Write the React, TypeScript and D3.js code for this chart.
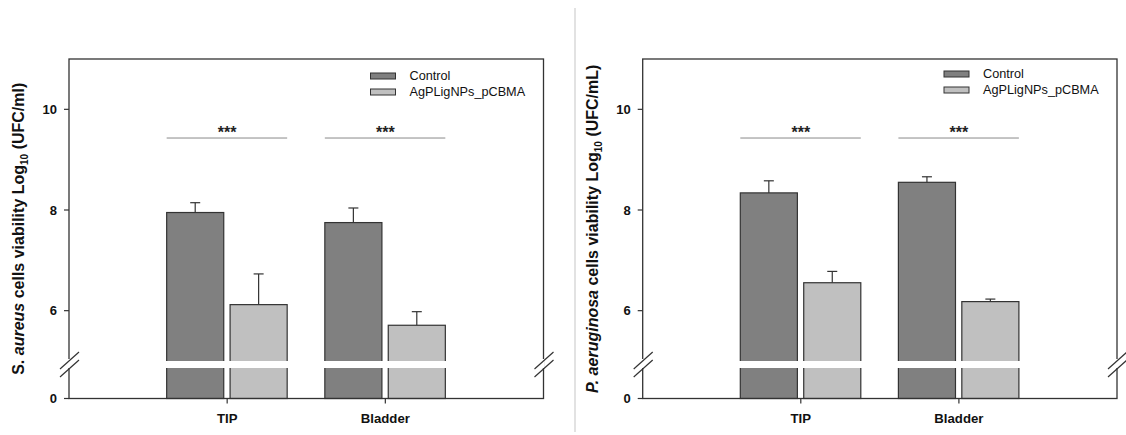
import React from "react";
import * as d3 from "d3";

const categories = ["TIP", "Bladder"];
const seriesNames = ["Control", "AgPLigNPs_pCBMA"];
const seriesColors = ["#808080", "#c0c0c0"];

const saureusControl = [7.95, 7.75];
const saureusControlErr = [0.195, 0.29];
const saureusTreated = [6.12, 5.71];
const saureusTreatedErr = [0.61, 0.27];

const paeruginosaControl = [8.34, 8.55];
const paeruginosaControlErr = [0.24, 0.11];
const paeruginosaTreated = [6.555, 6.18];
const paeruginosaTreatedErr = [0.225, 0.05];

const yTicks = [0, 6, 8, 10];
const sigLevel = 9.43;
const sigLabel = "***";

const FONT = "Arial, 'Liberation Sans', sans-serif";

type PanelProps = {
  x0: number;
  x1: number;
  values: number[][];
  errs: number[][];
  titleA: string;
  titleAItalic: boolean;
  titleB: string;
  titleUnit: string;
  titleX: number;
  legendY: number;
};

function Panel(p: PanelProps) {
  const top = 59;
  const bottom = 398.5;
  const y = d3.scaleLinear().domain([0, 5, 11]).range([bottom, 361, top]);
  const x = d3.scalePoint<string>().domain(categories).range([p.x0, p.x1]).padding(1);
  const xi = d3.scaleBand<string>().domain(seriesNames).range([-60.5, 60]).paddingInner(0.1);
  const gapTop = 361;
  const gapBot = 368;
  const stroke = "#333";
  const midY = (top + bottom) / 2;

  const slash = (cx: number) => (
    <g stroke={stroke} strokeWidth={1.2}>
      <line x1={cx - 9} y1={369} x2={cx + 10} y2={352} />
      <line x1={cx - 9} y1={377} x2={cx + 10} y2={360} />
    </g>
  );

  return (
    <g fontFamily={FONT}>
      {categories.map((c, ci) => (
        <g key={c}>
          {seriesNames.map((s, si) => {
            const v = p.values[si][ci];
            const e = p.errs[si][ci];
            const bx = (x(c) as number) + (xi(s) as number);
            const bw = xi.bandwidth();
            const cx = bx + bw / 2;
            return (
              <g key={s}>
                <line x1={cx} x2={cx} y1={y(v)} y2={y(v + e)} stroke={stroke} strokeWidth={1.2} />
                <line x1={cx - 5} x2={cx + 5} y1={y(v + e)} y2={y(v + e)} stroke={stroke} strokeWidth={1.2} />
                <rect x={bx} y={y(v)} width={bw} height={bottom - y(v)} fill={seriesColors[si]} stroke={stroke} strokeWidth={1.2} />
                <rect x={bx - 1.5} y={gapTop} width={bw + 3} height={gapBot - gapTop} fill="#fff" />
              </g>
            );
          })}
          <line
            x1={(x(c) as number) + (xi(seriesNames[0]) as number)}
            x2={(x(c) as number) + (xi(seriesNames[1]) as number) + xi.bandwidth()}
            y1={y(sigLevel)}
            y2={y(sigLevel)}
            stroke="#8a8a8a"
            strokeWidth={1}
          />
          <text x={x(c) as number} y={y(sigLevel) - 0.5} textAnchor="middle" fontSize={16} fontWeight="bold" fill="#222">
            {sigLabel}
          </text>
          <line x1={x(c) as number} x2={x(c) as number} y1={bottom} y2={bottom + 5} stroke={stroke} strokeWidth={1.2} />
          <text x={x(c) as number} y={423} textAnchor="middle" fontSize={13.2} fontWeight="bold" fill="#111">
            {c}
          </text>
        </g>
      ))}
      <rect x={p.x0} y={top} width={p.x1 - p.x0} height={bottom - top} fill="none" stroke={stroke} strokeWidth={1.3} />
      {yTicks.map((t) => (
        <g key={t}>
          <line x1={p.x0 - 5} x2={p.x0} y1={y(t)} y2={y(t)} stroke={stroke} strokeWidth={1.2} />
          <text x={p.x0 - 12} y={y(t)} dy="0.35em" textAnchor="end" fontSize={13} fontWeight="bold" fill="#111">
            {t}
          </text>
        </g>
      ))}
      <rect x={p.x0 - 1} y={359} width={2.5} height={9} fill="#fff" />
      <rect x={p.x1 - 1.5} y={359} width={2.5} height={9} fill="#fff" />
      {slash(p.x0)}
      {slash(p.x1)}
      {seriesNames.map((s, si) => (
        <g key={s}>
          <rect x={p.x1 - 173} y={p.legendY + si * 16 - 3} width={25} height={6} fill={seriesColors[si]} stroke={stroke} strokeWidth={1} />
          <text x={p.x1 - 134} y={p.legendY + si * 16} dy="0.35em" fontSize={12.7} fill="#111">
            {s}
          </text>
        </g>
      ))}
      <text
        transform={`translate(${p.titleX},${midY}) rotate(-90)`}
        textAnchor="middle"
        fontSize={16}
        fontWeight="bold"
        fill="#111"
      >
        <tspan fontStyle={p.titleAItalic ? "italic" : "normal"}>{p.titleA}</tspan>
        <tspan fontStyle="italic">{p.titleB}</tspan>
        <tspan> cells viability Log</tspan>
        <tspan fontSize={10} dy={4}>10</tspan>
        <tspan dy={-4}>{` (${p.titleUnit})`}</tspan>
      </text>
    </g>
  );
}

export default function App() {
  return (
    <svg
      width={1126}
      height={435}
      style={{ position: "absolute", left: 0, top: 0, background: "#fff" }}
    >
      <rect x={0} y={0} width={1126} height={435} fill="#fff" />
      <line x1={575} x2={575} y1={8} y2={432} stroke="#d8d8d8" strokeWidth={1.5} />
      <Panel
        x0={69}
        x1={543.5}
        values={[saureusControl, saureusTreated]}
        errs={[saureusControlErr, saureusTreatedErr]}
        titleA="S. "
        titleAItalic={false}
        titleB="aureus"
        titleUnit="UFC/ml"
        titleX={24}
        legendY={76}
      />
      <Panel
        x0={642.7}
        x1={1117}
        values={[paeruginosaControl, paeruginosaTreated]}
        errs={[paeruginosaControlErr, paeruginosaTreatedErr]}
        titleA="P. "
        titleAItalic={true}
        titleB="aeruginosa"
        titleUnit="UFC/mL"
        titleX={598}
        legendY={74}
      />
    </svg>
  );
}
